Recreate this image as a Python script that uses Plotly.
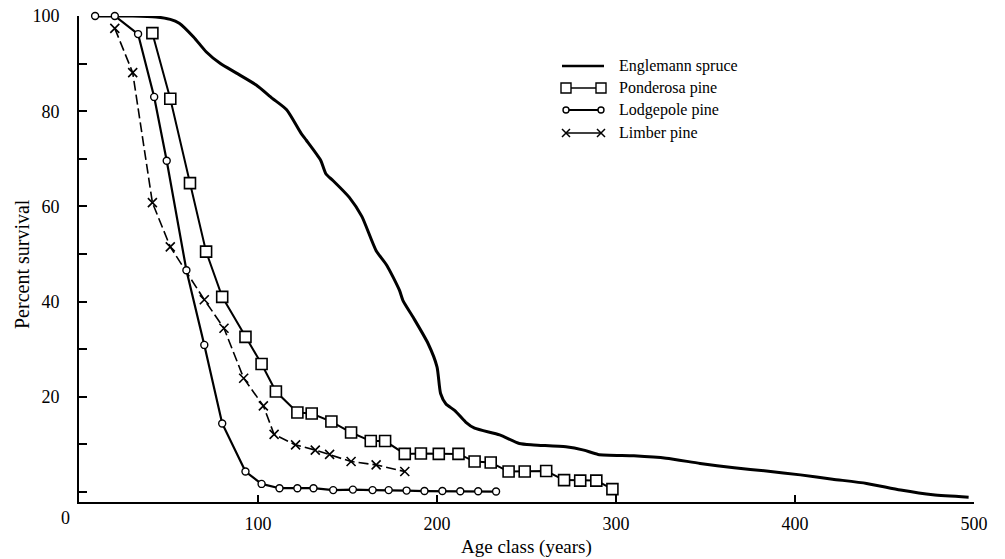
import plotly.graph_objects as go

# ---------------- data ----------------
age_spruce = [9, 20, 30, 43, 51, 56, 64, 71, 79, 88, 99, 108, 116, 124, 127,
              135, 138, 142, 151, 158, 166, 172, 179, 181, 187, 195, 200, 202,
              205, 210, 216, 221, 235, 246, 254, 272, 282, 290, 310, 328, 347,
              366, 384, 403, 421, 440, 459, 477, 497]
surv_spruce = [100, 100, 100, 99.8, 99.3, 98.5, 95.6, 92.5, 90.0, 88.0, 85.5,
               82.7, 80.3, 75.4, 73.9, 69.7, 66.8, 65.4, 61.9, 57.9, 50.7, 47.6,
               42.4, 40.2, 36.5, 31.2, 26.3, 20.7, 18.5, 17.1, 14.7, 13.4, 12.0,
               10.2, 9.9, 9.5, 8.8, 7.9, 7.6, 7.1, 6.0, 5.1, 4.4, 3.6, 2.7, 1.8,
               0.4, -0.6, -1.1]

age_ponderosa = [41, 51, 62, 71, 80, 93, 102, 110, 122, 130, 141, 152, 163, 171,
                 182, 191, 201, 212, 221, 230, 240, 249, 261, 271, 280, 289, 298]
surv_ponderosa = [96.4, 82.6, 64.9, 50.5, 41.0, 32.6, 26.9, 21.1, 16.7, 16.5,
                  14.8, 12.5, 10.7, 10.7, 8.0, 8.1, 8.0, 8.0, 6.4, 6.2, 4.3, 4.3,
                  4.4, 2.5, 2.4, 2.4, 0.6]

age_lodgepole = [9, 20, 33, 42, 49, 60, 70, 80, 93, 102, 112, 122, 131, 142,
                 153, 164, 173, 183, 193, 203, 213, 223, 233]
surv_lodgepole = [100, 100, 96.2, 83.0, 69.6, 46.6, 30.9, 14.4, 4.3, 1.7, 0.8,
                  0.8, 0.8, 0.4, 0.5, 0.4, 0.4, 0.3, 0.2, 0.2, 0.15, 0.15, 0.1]

age_limber = [20, 30, 41, 51, 70, 81, 92, 103, 109, 121, 132, 140, 152, 166, 182]
surv_limber = [97.4, 88.1, 60.8, 51.5, 40.4, 34.4, 23.9, 18.1, 12.1, 9.9, 8.8,
               7.9, 6.4, 5.7, 4.3]

species = ["Englemann spruce", "Ponderosa pine", "Lodgepole pine", "Limber pine"]

x_tick_vals = [100, 200, 300, 400, 500]
y_tick_vals = [0, 10, 20, 30, 40, 50, 60, 70, 80, 90, 100]
y_tick_text = ["", "", "20", "", "40", "", "60", "", "80", "", "100"]

x_title = "Age class (years)"
y_title = "Percent survival"

# ---------------- styling ----------------
FONT = "Liberation Serif"
BLACK = "black"

sq_marker = dict(symbol="square", size=11, color="white",
                 line=dict(color=BLACK, width=1.6))
ci_marker = dict(symbol="circle", size=7, color="white",
                 line=dict(color=BLACK, width=1.4))
x_marker = dict(symbol="x-thin", size=9, color=BLACK,
                line=dict(color=BLACK, width=1.6))

fig = go.Figure()

fig.add_trace(go.Scatter(
    x=age_spruce, y=surv_spruce, mode="lines", name=species[0],
    line=dict(color=BLACK, width=3, shape="spline", smoothing=0.6),
    cliponaxis=False, showlegend=False))

fig.add_trace(go.Scatter(
    x=age_limber, y=surv_limber, mode="lines+markers", name=species[3],
    line=dict(color=BLACK, width=1.6, dash="10px,4px"),
    marker=x_marker, cliponaxis=False, showlegend=False))

fig.add_trace(go.Scatter(
    x=age_lodgepole, y=surv_lodgepole, mode="lines+markers", name=species[2],
    line=dict(color=BLACK, width=2.2),
    marker=ci_marker, cliponaxis=False, showlegend=False))

fig.add_trace(go.Scatter(
    x=age_ponderosa, y=surv_ponderosa, mode="lines+markers", name=species[1],
    line=dict(color=BLACK, width=2),
    marker=sq_marker, cliponaxis=False, showlegend=False))

# ---------------- custom legend (overlay axes in pixel units) ----------------
PL, PR, PT, PB = 79, 974, 16, 502
leg_rows = [66, 88, 110, 133]
leg_x0, leg_x1, leg_text_x = 566, 601, 617

fig.add_trace(go.Scatter(
    x=[leg_x0 - 4, leg_x1 + 3], y=[leg_rows[0]] * 2, mode="lines",
    line=dict(color=BLACK, width=2.5), xaxis="x2", yaxis="y2",
    showlegend=False, hoverinfo="skip", cliponaxis=False))
fig.add_trace(go.Scatter(
    x=[leg_x0, leg_x1], y=[leg_rows[1]] * 2, mode="lines+markers",
    line=dict(color=BLACK, width=1.5),
    marker=dict(symbol="square", size=10, color="white",
                line=dict(color=BLACK, width=1.4)),
    xaxis="x2", yaxis="y2", showlegend=False, hoverinfo="skip", cliponaxis=False))
fig.add_trace(go.Scatter(
    x=[leg_x0, leg_x1], y=[leg_rows[2]] * 2, mode="lines+markers",
    line=dict(color=BLACK, width=2.2),
    marker=dict(symbol="circle", size=6, color="white",
                line=dict(color=BLACK, width=1.4)),
    xaxis="x2", yaxis="y2", showlegend=False, hoverinfo="skip", cliponaxis=False))
fig.add_trace(go.Scatter(
    x=[leg_x0, leg_x1], y=[leg_rows[3]] * 2, mode="lines+markers",
    line=dict(color=BLACK, width=1.5),
    marker=dict(symbol="x-thin", size=8, color=BLACK,
                line=dict(color=BLACK, width=1.5)),
    xaxis="x2", yaxis="y2", showlegend=False, hoverinfo="skip", cliponaxis=False))

annotations = []
for name, ry in zip(species, leg_rows):
    annotations.append(dict(
        text=name, x=leg_text_x, y=ry, xref="x2", yref="y2",
        xanchor="left", yanchor="middle", showarrow=False,
        font=dict(family=FONT, size=16, color=BLACK)))

# origin "0" label
annotations.append(dict(
    text="0", x=0, y=0, xref="x", yref="paper", xanchor="center",
    yanchor="top", xshift=-14, yshift=-4, showarrow=False,
    font=dict(family=FONT, size=18, color=BLACK)))

# axis titles
annotations.append(dict(
    text=x_title, x=0.5, y=(PB - 547) / (PB - PT), xref="paper", yref="paper",
    xanchor="center", yanchor="middle", showarrow=False,
    font=dict(family=FONT, size=19, color=BLACK)))
annotations.append(dict(
    text=y_title, x=(22 - PL) / (PR - PL), y=(PB - 264) / (PB - PT),
    xref="paper", yref="paper", textangle=-90,
    xanchor="center", yanchor="middle", showarrow=False,
    font=dict(family=FONT, size=20, color=BLACK)))

fig.update_layout(
    width=1005, height=559,
    margin=dict(l=PL, r=1005 - PR, t=PT, b=559 - PB, autoexpand=False),
    paper_bgcolor="white", plot_bgcolor="white",
    font=dict(family=FONT, size=16, color=BLACK),
    showlegend=False,
    annotations=annotations,
    xaxis=dict(
        range=[0, 500], showgrid=False, zeroline=False, automargin=False,
        showline=True, linecolor=BLACK, linewidth=2,
        ticks="inside", ticklen=7, tickwidth=1.5, tickcolor=BLACK,
        tickvals=x_tick_vals, ticklabelstandoff=4,
        tickfont=dict(family=FONT, size=18, color=BLACK),
    ),
    yaxis=dict(
        range=[-2.1, 100], showgrid=False, zeroline=False, automargin=False,
        showline=True, linecolor=BLACK, linewidth=2,
        ticks="inside", ticklen=8, tickwidth=1.5, tickcolor=BLACK,
        tickvals=y_tick_vals, ticktext=y_tick_text, ticklabelstandoff=14,
        tickfont=dict(family=FONT, size=18, color=BLACK),
    ),
    xaxis2=dict(overlaying="x", range=[PL, PR], visible=False),
    yaxis2=dict(overlaying="y", range=[PB, PT], visible=False),
)

fig.write_html("out.html",
               config={"displayModeBar": False},
               post_script="document.body.style.margin='0';"
                           "document.body.style.overflow='hidden';")
